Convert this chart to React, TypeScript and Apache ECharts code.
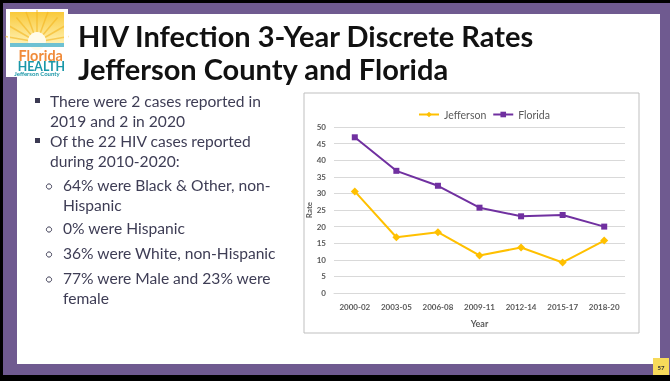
import React, { useEffect, useRef } from "react";
import * as echarts from "echarts";

const categories = ["2000-02", "2003-05", "2006-08", "2009-11", "2012-14", "2015-17", "2018-20"];
const jefferson = [30.6, 16.8, 18.3, 11.3, 13.7, 9.2, 15.8];
const florida = [46.9, 36.8, 32.3, 25.7, 23.1, 23.5, 20.0];
const yTicks = { min: 0, max: 50, interval: 5 };

const titleLines = ["HIV Infection 3-Year Discrete Rates", "Jefferson County and Florida"];
const bulletLines: { level: number; lines: string[] }[] = [
  { level: 1, lines: ["There were 2 cases reported in", "2019 and 2 in 2020"] },
  { level: 1, lines: ["Of the 22 HIV cases reported", "during 2010-2020:"] },
  { level: 2, lines: ["64% were Black & Other, non-", "Hispanic"] },
  { level: 2, lines: ["0% were Hispanic"] },
  { level: 2, lines: ["36% were White, non-Hispanic"] },
  { level: 2, lines: ["77% were Male and 23% were", "female"] },
];
const lineYs = [101, 121, 141, 161, 185, 205, 228, 253, 278, 298];

const PURPLE_FRAME = "#6F5A90";
const TEXT = "#3E3D55";

export default function App() {
  const ref = useRef<HTMLDivElement>(null);
  useEffect(() => {
    const chart = echarts.init(ref.current!, undefined, { renderer: "svg" });
    const graphics: any[] = [];
    // frame
    graphics.push({ type: "rect", z: -10, shape: { x: 0, y: 0, width: 670, height: 381 }, style: { fill: "#000" } });
    graphics.push({ type: "rect", z: -9, shape: { x: 3, y: 3, width: 667, height: 372 }, style: { fill: PURPLE_FRAME } });
    graphics.push({ type: "rect", z: -8, shape: { x: 17, y: 14, width: 643, height: 350 }, style: { fill: "#fff" } });
    // page number
    graphics.push({ type: "rect", shape: { x: 653, y: 358, width: 16, height: 17 }, style: { fill: "#F7DA5A" } });
    graphics.push({ type: "text", x: 661, y: 367, style: { text: "57", font: "bold 6px Lato", fill: "#333", align: "center", verticalAlign: "middle" } });
    // logo
    graphics.push({ type: "rect", shape: { x: 6, y: 9, width: 62, height: 68 }, style: { fill: "#fff" } });
    graphics.push({
      type: "rect",
      shape: { x: 10, y: 12, width: 54, height: 33 },
      style: {
        fill: new echarts.graphic.LinearGradient(0, 0, 0, 1, [
          { offset: 0, color: "#F9C93A" },
          { offset: 1, color: "#FFF3B8" },
        ]),
      },
    });
    for (let i = 0; i < 9; i++) {
      const a = Math.PI + (i + 0.5) * (Math.PI / 9);
      graphics.push({
        type: "line",
        shape: { x1: 37, y1: 42, x2: 37 + Math.cos(a) * 32, y2: 42 + Math.sin(a) * 32 },
        style: { stroke: "#F4B41E", lineWidth: 1.5, opacity: 0.6 },
      });
    }
    graphics.push({ type: "rect", shape: { x: 8, y: 11, width: 2, height: 36 }, style: { fill: "#fff" } });
    graphics.push({ type: "rect", shape: { x: 64, y: 11, width: 4, height: 36 }, style: { fill: "#fff" } });
    graphics.push({ type: "circle", shape: { cx: 37, cy: 41, r: 9 }, style: { fill: "#FFFBEA" } });
    graphics.push({ type: "rect", shape: { x: 10, y: 43, width: 54, height: 4 }, style: { fill: "#6EC1D2" } });
    graphics.push({ type: "text", x: 37, y: 55, scaleX: 0.9, originX: 37, style: { text: "Florida", font: "bold 16px Lato", fill: "#F08B3A", align: "center", verticalAlign: "middle" } });
    graphics.push({ type: "text", x: 37, y: 66, scaleX: 0.88, originX: 37, style: { text: "HEALTH", font: "bold 14px Lato", fill: "#1A97A8", align: "center", verticalAlign: "middle" } });
    graphics.push({ type: "text", x: 37, y: 73.5, style: { text: "Jefferson County", font: "bold 6px Lato", fill: "#1A97A8", align: "center", verticalAlign: "middle" } });
    // title
    titleLines.forEach((t, i) => {
      graphics.push({ type: "text", x: 78, y: 35 + i * 33, style: { text: t, font: "bold 29px Lato", fill: "#111", align: "left", verticalAlign: "middle" } });
    });
    // bullets
    let k = 0;
    bulletLines.forEach((b) => {
      b.lines.forEach((ln, j) => {
        const y = lineYs[k++];
        const tx = b.level === 1 ? 50 : 63;
        if (j === 0) {
          if (b.level === 1) {
            graphics.push({ type: "rect", shape: { x: 35, y: y - 3, width: 5, height: 5 }, style: { fill: "#3B3A52" } });
          } else {
            graphics.push({ type: "circle", shape: { cx: 49, cy: y + 1.5, r: 2.6 }, style: { fill: "none", stroke: TEXT, lineWidth: 1 } });
          }
        }
        graphics.push({ type: "text", x: tx, y, style: { text: ln, font: "15.6px Lato", fill: TEXT, align: "left", verticalAlign: "middle" } });
      });
    });
    // chart box
    graphics.push({ type: "rect", z: -5, shape: { x: 304, y: 93, width: 335, height: 240 }, style: { fill: "#fff", stroke: "#BFBFBF", lineWidth: 1 } });

    chart.setOption({
      animation: false,
      graphic: graphics,
      legend: {
        top: 104,
        left: 413,
        itemWidth: 20,
        itemHeight: 7,
        itemGap: 6,
        textStyle: { color: "#595959", fontSize: 10.5, fontFamily: "Lato" },
        data: ["Jefferson", "Florida"],
      },
      grid: { left: 334, right: 45, top: 127, bottom: 88 },
      xAxis: {
        type: "category",
        data: categories,
        boundaryGap: true,
        axisLine: { lineStyle: { color: "#D9D9D9" } },
        axisTick: { show: false },
        axisLabel: { color: "#595959", fontSize: 8, fontFamily: "Lato", fontWeight: "bold", margin: 10 },
        name: "Year",
        nameLocation: "middle",
        nameGap: 26,
        nameTextStyle: { color: "#595959", fontSize: 9, fontFamily: "Lato", fontWeight: "bold" },
      },
      yAxis: {
        type: "value",
        min: yTicks.min,
        max: yTicks.max,
        interval: yTicks.interval,
        splitLine: { lineStyle: { color: "#D9D9D9" } },
        axisLine: { show: false },
        axisTick: { show: false },
        axisLabel: { color: "#595959", fontSize: 8, fontFamily: "Lato", fontWeight: "bold", margin: 8 },
        name: "Rate",
        nameLocation: "middle",
        nameGap: 17,
        nameRotate: 90,
        nameTextStyle: { color: "#595959", fontSize: 8, fontFamily: "Lato", fontWeight: "bold" },
      },
      series: [
        {
          name: "Jefferson",
          type: "line",
          data: jefferson,
          symbol: "diamond",
          symbolSize: 8,
          itemStyle: { color: "#FFC000" },
          lineStyle: { color: "#FFC000", width: 2 },
        },
        {
          name: "Florida",
          type: "line",
          data: florida,
          symbol: "rect",
          symbolSize: 6,
          itemStyle: { color: "#7030A0" },
          lineStyle: { color: "#7030A0", width: 2 },
        },
      ],
    });
    return () => chart.dispose();
  }, []);
  return <div ref={ref} style={{ position: "fixed", left: 0, top: 0, width: 670, height: 381 }} />;
}
